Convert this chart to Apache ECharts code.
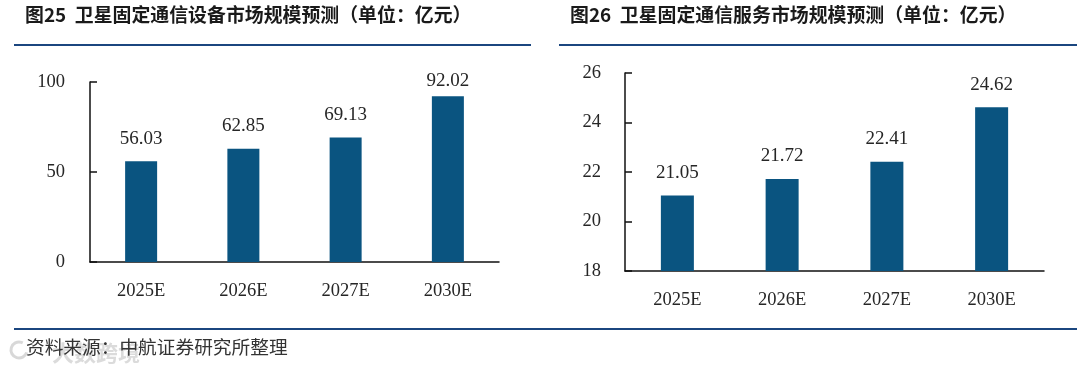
<!DOCTYPE html>
<html>
<head>
<meta charset="utf-8">
<style>
  html, body { margin: 0; padding: 0; background: #fff; }
  #chart { width: 1080px; height: 371px; }
</style>
<script src="https://cdn.jsdelivr.net/npm/echarts@6/dist/echarts.min.js"></script>
</head>
<body>
<div id="chart"></div>
<script>
const categories = ['2025E', '2026E', '2027E', '2030E']
const equipmentValues = [56.03, 62.85, 69.13, 92.02]
const serviceValues = [21.05, 21.72, 22.41, 24.62]
const equipmentTitle = '图25  卫星固定通信设备市场规模预测（单位：亿元）'
const serviceTitle = '图26  卫星固定通信服务市场规模预测（单位：亿元）'
const sourceText = '资料来源：中航证券研究所整理'
const watermarkText = '大数跨境'

const latinFont = '"Liberation Serif", serif'
const cjkFont = '"Noto Sans CJK SC", sans-serif'
const barColor = '#0a5480'
const ruleColor = '#1b467f'
const textColor = '#262626'

// 左右两张图的坐标轴样式一样
function makeXAxis(gridIndex) {
  return {
    type: 'category',
    gridIndex,
    data: categories,
    axisLine: { lineStyle: { color: '#111', width: 1.5 } },
    axisTick: { show: false },
    axisLabel: { margin: 20, fontFamily: latinFont, fontSize: 18.5, color: textColor },
  }
}
function makeYAxis(gridIndex, min, max, interval, margin) {
  return {
    type: 'value',
    gridIndex,
    min,
    max,
    interval,
    splitLine: { show: false },
    axisLine: { show: true, lineStyle: { color: '#111', width: 1.5 } },
    axisTick: { show: true, inside: true, length: 7, lineStyle: { color: '#111', width: 1.5 } },
    axisLabel: { margin, fontFamily: latinFont, fontSize: 18.5, color: textColor },
  }
}
function makeBar(index, values, barWidth, distances) {
  return {
    type: 'bar',
    xAxisIndex: index,
    yAxisIndex: index,
    barWidth,
    itemStyle: { color: barColor },
    data: values.map((value, i) => ({
      value,
      label: { distance: distances[i] },
    })),
    label: {
      show: true,
      position: 'top',
      formatter: (p) => p.value.toFixed(2),
      fontFamily: latinFont,
      fontSize: 19,
      color: textColor,
    },
  }
}
function makeRule(x1, x2, y) {
  return {
    type: 'line',
    shape: { x1, y1: y, x2, y2: y },
    style: { stroke: ruleColor, lineWidth: 2 },
  }
}
function makeText(x, y, text, fontSize, fontWeight, fill) {
  return {
    type: 'text',
    x,
    y,
    style: {
      text,
      fontFamily: cjkFont,
      fontSize,
      fontWeight,
      fill,
      textVerticalAlign: 'middle',
    },
  }
}

const chartInstance = echarts.init(document.getElementById('chart'), null, { renderer: 'canvas' })
chartInstance.setOption({
  animation: false,
  backgroundColor: '#fff',
  grid: [
    { left: 90, right: 1080 - 499, top: 82, height: 180 },
    { left: 625, right: 1080 - 1044, top: 73, height: 198 },
  ],
  xAxis: [makeXAxis(0), makeXAxis(1)],
  yAxis: [makeYAxis(0, 0, 100, 50, 25), makeYAxis(1, 18, 26, 2, 24)],
  series: [
    makeBar(0, equipmentValues, 32, [13, 13, 13, 6]),
    makeBar(1, serviceValues, 33, [13, 13, 13, 13]),
  ],
  graphic: [
    makeRule(14, 531, 45),
    makeRule(559, 1077, 45),
    makeRule(14, 1077, 329),
    makeText(25, 15, equipmentTitle, 18.9, 'bold', '#1a1a1a'),
    makeText(570, 15, serviceTitle, 18.9, 'bold', '#1a1a1a'),
    // 水印在来源文字下面
    {
      type: 'arc',
      shape: { cx: 19, cy: 350, r: 8, startAngle: 0.3, endAngle: 5.2 },
      style: { stroke: 'rgba(190,190,190,0.6)', lineWidth: 3, fill: null },
    },
    makeText(52, 353, watermarkText, 22, 'bold', 'rgba(190,190,190,0.55)'),
    makeText(26, 347, sourceText, 18.7, 'normal', '#333'),
  ],
})
</script>
</body>
</html>
